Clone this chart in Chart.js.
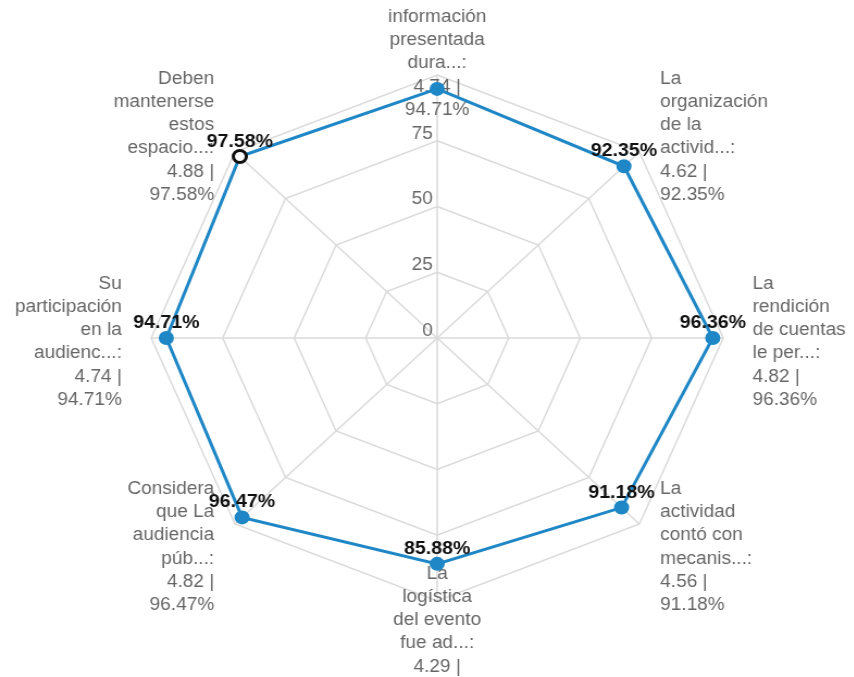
<!DOCTYPE html>
<html>
<head>
<meta charset="utf-8">
<script src="https://cdn.jsdelivr.net/npm/chart.js@4/dist/chart.umd.min.js"></script>
<style>
  html, body { margin: 0; padding: 0; background: #fff; overflow: hidden; }
  /* the reference is stretched horizontally */
  #wrap { width: 786px; height: 677px; transform: scaleX(1.0875); transform-origin: 0 0; }
</style>
</head>
<body>
<div id="wrap"><canvas id="radarChart" width="786" height="677"></canvas></div>
<script>
// Category labels, already wrapped as in the picture
const categoryLines = [
  ['La', 'información', 'presentada', 'dura...:'],
  ['La', 'organización', 'de la', 'activid...:'],
  ['La', 'rendición', 'de cuentas', 'le per...:'],
  ['La', 'actividad', 'contó con', 'mecanis...:'],
  ['La', 'logística', 'del evento', 'fue ad...:'],
  ['Considera', 'que La', 'audiencia', 'púb...:'],
  ['Su', 'participación', 'en la', 'audienc...:'],
  ['Deben', 'mantenerse', 'estos', 'espacio...:']
];
const scores = [4.74, 4.62, 4.82, 4.56, 4.29, 4.82, 4.74, 4.88];
const percents = [94.71, 92.35, 96.36, 91.18, 85.88, 96.47, 94.71, 97.58];
const tickValues = [0, 25, 50, 75];
// the value label of the top point is hidden in the picture
const hiddenValueLabels = [0];

const lineColor = '#1f87c6';
const labelFont = '17.5px "Liberation Sans", Arial, sans-serif';

const fullLabels = categoryLines.map((lines, i) =>
  lines.concat([scores[i].toFixed(2) + ' |', percents[i].toFixed(2) + '%']));

// draws point labels and tick labels under the data
const labelPlugin = {
  id: 'labelPlugin',
  beforeDatasetsDraw(chart) {
    const ctx = chart.ctx;
    const scale = chart.scales.r;
    ctx.save();
    ctx.font = labelFont;
    ctx.fillStyle = '#666';
    ctx.textBaseline = 'middle';
    const lh = 23.3;
    fullLabels.forEach((lines, i) => {
      const pos = scale.getPointPosition(i, scale.drawingArea + 27);
      if (pos.x > scale.xCenter + 2) ctx.textAlign = 'left';
      else if (pos.x < scale.xCenter - 2) ctx.textAlign = 'right';
      else ctx.textAlign = 'center';
      const y0 = pos.y + 4 - (lines.length - 1) * lh / 2;
      lines.forEach((line, k) => ctx.fillText(line, pos.x, y0 + k * lh));
    });
    ctx.textAlign = 'right';
    tickValues.forEach(v => {
      const d = scale.getDistanceFromCenterForValue(v);
      ctx.fillText(String(v), scale.xCenter - 4, scale.yCenter - d - 7);
    });
    ctx.restore();
  },
  afterDatasetsDraw(chart) {
    const ctx = chart.ctx;
    const meta = chart.getDatasetMeta(0);
    ctx.save();
    ctx.font = 'bold 18px "Liberation Sans", Arial, sans-serif';
    ctx.fillStyle = '#111';
    ctx.textAlign = 'center';
    ctx.textBaseline = 'middle';
    meta.data.forEach((pt, i) => {
      if (hiddenValueLabels.includes(i)) return;
      ctx.fillText(percents[i].toFixed(2) + '%', pt.x, pt.y - 15);
    });
    ctx.restore();
  }
};

const ctx = document.getElementById('radarChart').getContext('2d');
const radarChart = new Chart(ctx, {
  type: 'radar',
  data: {
    labels: categoryLines.map(l => l.join(' ')),
    datasets: [{
      data: percents,
      borderColor: lineColor,
      borderWidth: 3,
      fill: false,
      pointRadius: 6,
      pointBackgroundColor: percents.map((p, i) => i === 7 ? '#fff' : lineColor),
      pointBorderColor: percents.map((p, i) => i === 7 ? '#111' : lineColor),
      pointBorderWidth: percents.map((p, i) => i === 7 ? 3 : 2)
    }]
  },
  options: {
    responsive: false,
    animation: false,
    layout: {
      padding: { left: 139, right: 121, top: 75, bottom: 76 }
    },
    plugins: {
      legend: { display: false },
      tooltip: { enabled: false }
    },
    scales: {
      r: {
        min: 0,
        max: 100,
        ticks: { display: false, stepSize: 25 },
        pointLabels: { display: false },
        grid: { color: '#dadada', lineWidth: 1.5 },
        angleLines: { color: '#dadada', lineWidth: 1.5 }
      }
    }
  },
  plugins: [labelPlugin]
});
</script>
</body>
</html>
